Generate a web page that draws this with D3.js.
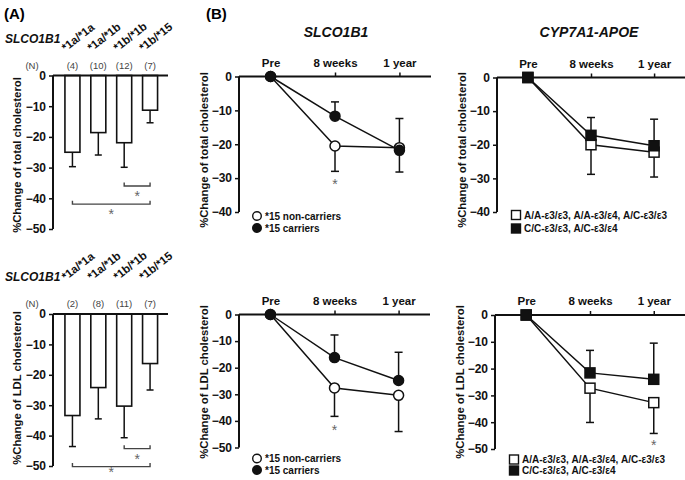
<!DOCTYPE html>
<html><head><meta charset="utf-8">
<script src="https://cdn.jsdelivr.net/npm/d3@7"></script>
<style>
body{margin:0;background:#fff;}
svg{display:block;font-family:"Liberation Sans",Arial,Helvetica,sans-serif;}
</style></head>
<body><svg id="c" width="685" height="480"></svg>
<script>
// ---------- DATA ----------
const genotypesA = ["*1a/*1a", "*1a/*1b", "*1b/*1b", "*1b/*15"];
const nTotalA = ["(4)", "(10)", "(12)", "(7)"];
const totalA = [-25, -18.6, -21.9, -11.3];
const totalAErr = [-29.7, -25.9, -29.9, -15.4];
const nLdlA = ["(2)", "(8)", "(11)", "(7)"];
const ldlA = [-33.4, -24.2, -30.3, -16.3];
const ldlAErr = [-43.6, -34.5, -40.7, -25.0];
const sigTotalA = [{from: 2, to: 3, level: -36.0}, {from: 0, to: 3, level: -41.9}];
const sigLdlA = [{from: 2, to: 3, level: -44.3}, {from: 0, to: 3, level: -50.2}];
const ticksA = [0, -10, -20, -30, -40, -50];

const timepoints = ["Pre", "8 weeks", "1 year"];
const ticksTop = [0, -10, -20, -30, -40];
const ticksBottom = [0, -10, -20, -30, -40, -50];

// SLCO1B1 total cholesterol
const slcoTotNon = [0, -20.5, -21.0];
const slcoTotNonErr = [null, -28.0, -12.4];
const slcoTotCar = [0, -11.7, -21.8];
const slcoTotCarErr = [null, -7.5, -28.2];
// CYP7A1-APOE total cholesterol
const cypTotOpen = [0, -20.0, -22.2];
const cypTotOpenErr = [null, -28.8, -29.6];
const cypTotFill = [0, -17.2, -20.3];
const cypTotFillErr = [null, -11.9, -12.4];
// SLCO1B1 LDL
const slcoLdlNon = [0, -27.6, -30.4];
const slcoLdlNonErr = [null, -38.3, -44.0];
const slcoLdlCar = [0, -16.2, -24.8];
const slcoLdlCarErr = [null, -7.7, -14.2];
// CYP7A1-APOE LDL
const cypLdlOpen = [0, -27.3, -32.7];
const cypLdlOpenErr = [null, -40.1, -44.2];
const cypLdlFill = [0, -21.6, -24.0];
const cypLdlFillErr = [null, -13.2, -10.5];

const legendSlco = ["*15 non-carriers", "*15 carriers"];
const legendCyp = ["A/A-ε3/ε3, A/A-ε3/ε4, A/C-ε3/ε3", "C/C-ε3/ε3, A/C-ε3/ε4"];

// ---------- DRAW ----------
const svg = d3.select("#c");
const BOLD = "bold";

svg.append("text").attr("x", 4).attr("y", 19).attr("font-size", 15).attr("font-weight", BOLD).text("(A)");
svg.append("text").attr("x", 206).attr("y", 19).attr("font-size", 15).attr("font-weight", BOLD).text("(B)");

function yAxis(g, y, x0, ticks) {
  const ax = d3.axisLeft(y).tickValues(ticks).tickSize(4).tickPadding(3).tickFormat(d3.format("d"));
  const a = g.append("g").attr("transform", `translate(${x0},0)`).call(ax);
  a.select(".domain").remove();
  a.append("line").attr("x1", 0).attr("x2", 0).attr("y1", y(ticks[0])).attr("y2", y(ticks[ticks.length - 1]))
    .attr("stroke", "#111").attr("stroke-width", 2);
  a.selectAll(".tick line").attr("stroke", "#111").attr("stroke-width", 1.5);
  a.selectAll(".tick text").attr("font-size", 12).attr("font-weight", BOLD).attr("fill", "#111")
    .attr("font-family", '"Liberation Sans",Arial,sans-serif');
  return a;
}

function yTitle(x, cy, txt) {
  svg.append("text").attr("transform", `translate(${x},${cy}) rotate(-90)`).attr("text-anchor", "middle")
    .attr("font-size", 11.3).attr("font-weight", BOLD).attr("fill", "#111").text(txt);
}

function star(g, x, baseline) {
  g.append("text").attr("x", x).attr("y", baseline).attr("text-anchor", "middle").attr("font-size", 14).attr("fill", "#666").text("*");
}

function panelA(cfg) {
  const y = d3.scaleLinear().domain([0, -50]).range(cfg.yr);
  const x = d3.scaleBand().domain(genotypesA).range([59.5, 163]).paddingInner(0.42).paddingOuter(0.21);
  const g = svg.append("g");
  // bars
  cfg.vals.forEach((v, i) => {
    const cx = x(genotypesA[i]) + x.bandwidth() / 2;
    g.append("line").attr("x1", cx).attr("x2", cx).attr("y1", y(v)).attr("y2", y(cfg.err[i])).attr("stroke", "#111").attr("stroke-width", 1.5);
    g.append("line").attr("x1", cx - 3.5).attr("x2", cx + 3.5).attr("y1", y(cfg.err[i])).attr("y2", y(cfg.err[i])).attr("stroke", "#111").attr("stroke-width", 1.5);
    g.append("rect").attr("x", x(genotypesA[i])).attr("y", y(0)).attr("width", x.bandwidth()).attr("height", y(v) - y(0))
      .attr("fill", "#fff").attr("stroke", "#111").attr("stroke-width", 1.6);
  });
  yAxis(g, y, 53, ticksA);
  g.append("line").attr("x1", 53).attr("x2", 168).attr("y1", y(0)).attr("y2", y(0)).attr("stroke", "#111").attr("stroke-width", 2);
  // significance brackets
  cfg.sig.forEach(s => {
    const x1 = x(genotypesA[s.from]) + x.bandwidth() / 2, x2 = x(genotypesA[s.to]) + x.bandwidth() / 2, yy = y(s.level);
    g.append("path").attr("d", `M${x1},${yy - 3.5}V${yy}H${x2}V${yy - 3.5}`).attr("fill", "none").attr("stroke", "#444").attr("stroke-width", 1.4);
    star(g, (x1 + x2) / 2, Math.min(yy + 15, 476.5));
  });
  // N row
  g.append("text").attr("x", 32).attr("y", cfg.nY).attr("text-anchor", "middle").attr("font-size", 9.5).attr("fill", "#444").text("(N)");
  cfg.n.forEach((t, i) => {
    g.append("text").attr("x", x(genotypesA[i]) + x.bandwidth() / 2).attr("y", cfg.nY).attr("text-anchor", "middle").attr("font-size", 9.5).attr("fill", "#444").text(t);
  });
  // genotype labels
  genotypesA.forEach((t, i) => {
    const cx = x(t) + x.bandwidth() / 2 - 7;
    g.append("text").attr("transform", `translate(${cx},${cfg.labY}) rotate(-38)`).attr("font-size", 11.5).attr("font-weight", BOLD).attr("fill", "#111").text(t);
  });
  g.append("text").attr("x", 5).attr("y", cfg.geneY).attr("font-size", 12).attr("font-weight", BOLD).attr("font-style", "italic").attr("fill", "#111").text("SLCO1B1");
  yTitle(21, cfg.titleY, cfg.title);
}

panelA({yr: [75.5, 229], vals: totalA, err: totalAErr, sig: sigTotalA, n: nTotalA, nY: 69, labY: 52, geneY: 42.5, titleY: 155, title: "%Change of total cholesterol"});
panelA({yr: [314, 466], vals: ldlA, err: ldlAErr, sig: sigLdlA, n: nLdlA, nY: 306.5, labY: 281, geneY: 281, titleY: 388, title: "%Change of LDL cholesterol"});

function panelB(cfg) {
  const y = d3.scaleLinear().domain([0, cfg.ticks[cfg.ticks.length - 1]]).range(cfg.yr);
  const x = d3.scalePoint().domain(timepoints).range([cfg.x0, cfg.x1]).padding(0.49);
  const g = svg.append("g");
  const ax = d3.axisTop(x).tickSize(4).tickPadding(6);
  const a = g.append("g").attr("transform", `translate(0,${y(0)})`).call(ax);
  a.select(".domain").remove();
  a.append("line").attr("x1", cfg.x0).attr("x2", cfg.x1).attr("stroke", "#111").attr("stroke-width", 2);
  a.selectAll(".tick line").attr("stroke", "#111").attr("stroke-width", 1.5);
  a.selectAll(".tick text").attr("font-size", 11.5).attr("font-weight", BOLD).attr("fill", "#111")
    .attr("font-family", '"Liberation Sans",Arial,sans-serif');
  yAxis(g, y, cfg.x0, cfg.ticks);
  const line = d3.line().x((d, i) => x(timepoints[i])).y(d => y(d));
  cfg.series.forEach(s => {
    g.append("path").attr("d", line(s.vals)).attr("fill", "none").attr("stroke", "#111").attr("stroke-width", 1.5);
  });
  cfg.series.forEach(s => {
    s.err.forEach((e, i) => {
      if (e === null) return;
      const cx = x(timepoints[i]);
      g.append("line").attr("x1", cx).attr("x2", cx).attr("y1", y(s.vals[i])).attr("y2", y(e)).attr("stroke", "#111").attr("stroke-width", 1.5);
      g.append("line").attr("x1", cx - 4).attr("x2", cx + 4).attr("y1", y(e)).attr("y2", y(e)).attr("stroke", "#111").attr("stroke-width", 1.5);
    });
  });
  function marker(cx, cy, filled, shape) {
    if (shape === "circle") {
      g.append("circle").attr("cx", cx).attr("cy", cy).attr("r", 5).attr("fill", filled ? "#111" : "#fff").attr("stroke", "#111").attr("stroke-width", 1.5);
    } else {
      g.append("rect").attr("x", cx - 5).attr("y", cy - 5).attr("width", 10).attr("height", 10).attr("fill", filled ? "#111" : "#fff").attr("stroke", "#111").attr("stroke-width", 1.5);
    }
  }
  cfg.series.forEach(s => s.vals.forEach((v, i) => marker(x(timepoints[i]), y(v), s.filled, cfg.shape)));
  cfg.stars.forEach(st => star(g, x(timepoints[st.at]), y(st.level) + 7.5));
  // legend
  cfg.legend.forEach((t, i) => {
    const ly = cfg.legY[i];
    const lg = svg.append("g");
    if (cfg.shape === "circle") {
      lg.append("circle").attr("cx", cfg.legX).attr("cy", ly).attr("r", 4.3).attr("fill", i === 1 ? "#111" : "#fff").attr("stroke", "#111").attr("stroke-width", 1.4);
    } else {
      lg.append("rect").attr("x", cfg.legX - 4.5).attr("y", ly - 4.5).attr("width", 9).attr("height", 9).attr("fill", i === 1 ? "#111" : "#fff").attr("stroke", "#111").attr("stroke-width", 1.4);
    }
    lg.append("text").attr("x", cfg.legX + 8).attr("y", ly + 3.6).attr("font-size", 10).attr("font-weight", BOLD).attr("fill", "#111").text(t);
  });
  yTitle(cfg.x0 - 31, cfg.titleY, cfg.title);
}

svg.append("text").attr("x", 336).attr("y", 37).attr("text-anchor", "middle").attr("font-size", 14).attr("font-weight", BOLD).attr("font-style", "italic").attr("fill", "#111").text("SLCO1B1");
svg.append("text").attr("x", 589).attr("y", 37).attr("text-anchor", "middle").attr("font-size", 14).attr("font-weight", BOLD).attr("font-style", "italic").attr("fill", "#111").text("CYP7A1-APOE");

panelB({x0: 239, x1: 431, yr: [76.5, 212], ticks: ticksTop, shape: "circle",
  series: [{vals: slcoTotNon, err: slcoTotNonErr, filled: false}, {vals: slcoTotCar, err: slcoTotCarErr, filled: true}],
  stars: [{at: 1, level: -31}], legend: legendSlco, legX: 257, legY: [216, 228], titleY: 150, title: "%Change of total cholesterol"});
panelB({x0: 497, x1: 685, yr: [77.5, 212], ticks: ticksTop, shape: "square",
  series: [{vals: cypTotOpen, err: cypTotOpenErr, filled: false}, {vals: cypTotFill, err: cypTotFillErr, filled: true}],
  stars: [], legend: legendCyp, legX: 516, legY: [215, 228.5], titleY: 150, title: "%Change of total cholesterol"});
panelB({x0: 239, x1: 430, yr: [314.5, 447.5], ticks: ticksBottom, shape: "circle",
  series: [{vals: slcoLdlNon, err: slcoLdlNonErr, filled: false}, {vals: slcoLdlCar, err: slcoLdlCarErr, filled: true}],
  stars: [{at: 1, level: -42.4}], legend: legendSlco, legX: 257, legY: [458.5, 470], titleY: 382, title: "%Change of LDL cholesterol"});
panelB({x0: 495, x1: 685, yr: [315, 449], ticks: ticksBottom, shape: "square",
  series: [{vals: cypLdlOpen, err: cypLdlOpenErr, filled: false}, {vals: cypLdlFill, err: cypLdlFillErr, filled: true}],
  stars: [{at: 2, level: -47.5}], legend: legendCyp, legX: 514, legY: [459.5, 470.5], titleY: 382, title: "%Change of LDL cholesterol"});
</script></body></html>
